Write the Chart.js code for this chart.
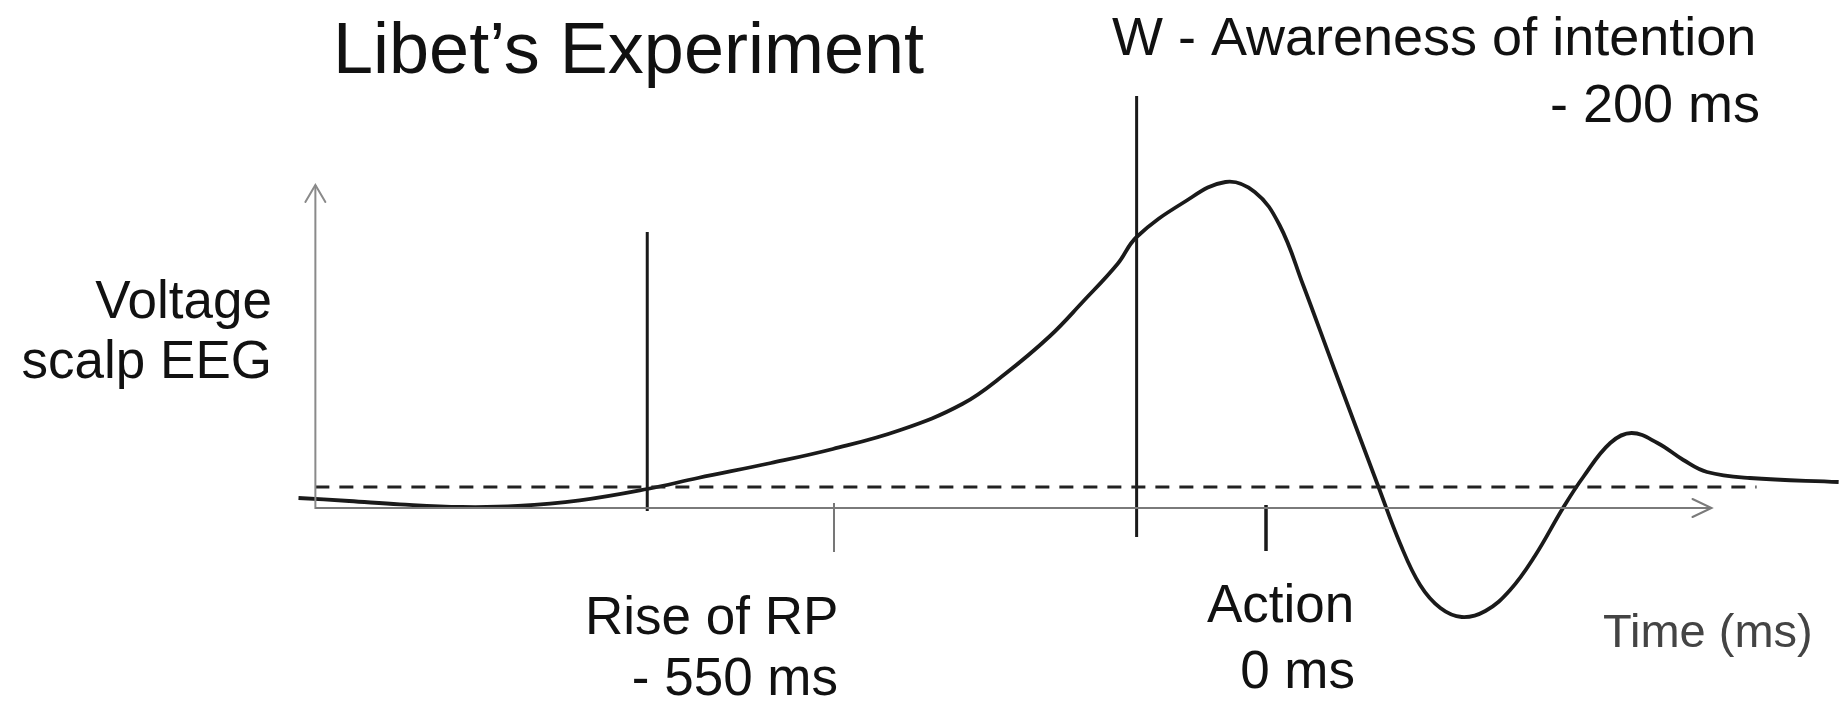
<!DOCTYPE html>
<html>
<head>
<meta charset="utf-8">
<title>Libet's Experiment</title>
<script src="https://cdn.jsdelivr.net/npm/chart.js@4"></script>
<style>
    html, body { margin: 0; padding: 0; background: #fff; }
    #wrap { width: 1839px; height: 710px; position: relative; }
</style>
</head>
<body>
<div id="wrap"><canvas id="libet"></canvas></div>
<script>
// readiness potential, time in ms relative to action, voltage in arbitrary units
const eegTime = [-860, -815, -770, -715, -665, -610, -550, -505, -440, -385, -325, -270, -232, -192, -163, -132, -115, -74, -36, -10, 12, 33, 60, 100, 119, 137, 155, 174, 195, 217, 239, 264, 282, 306, 325, 348, 371, 392, 430, 509];
const eegVoltage = [2.5, 1.75, 0.9, 0.25, 0.5, 1.9, 4.75, 7.5, 11.25, 14.75, 19.5, 26, 33.5, 43, 51.5, 61, 67.75, 76.25, 81.5, 79, 70.75, 55.75, 35.25, 5.25, -8.75, -19.25, -25, -27.25, -25.75, -20.5, -12, 0, 7.75, 16.25, 18.75, 16.25, 12, 9, 7.5, 6.5];

// baseline (dashed) and axes
const baselineLevel = 5.25;
const baselineEnd = 436;
const axisStart = -845;
const axisEnd = 396;
const axisTop = 80.75;

// event markers: vertical lines
const markerTime = [-550, -115, 0];
const markerTop = [69, 103, 0.75];
const markerBottom = [-0.75, -7.25, -10.75];
const tickTime = -384;
const tickRange = [1.25, -11];

// texts
const eventNames = ['Rise of RP', 'W - Awareness of intention', 'Action'];
const eventTimes = ['- 550 ms', '- 200 ms', '0 ms'];
const yTitle = ['Voltage', 'scalp EEG'];
const xTitle = 'Time (ms)';
const chartTitle = 'Libet\u2019s Experiment';

const FONT = '"Liberation Sans", Arial, Helvetica, sans-serif';

function seg(x1, y1, x2, y2) {
    return [{x: x1, y: y1}, {x: x2, y: y2}];
}

function lineSet(data, color, width, dash) {
    return {
        data: data,
        borderColor: color,
        borderWidth: width,
        borderDash: dash || [],
        pointRadius: 0,
        tension: 0,
        fill: false
    };
}

let datasets = [
    lineSet(seg(axisStart, 0, axisEnd, 0), '#7a7a7a', 2),
    lineSet(seg(axisStart, -0.25, axisStart, axisTop), '#8a8a8a', 2),
    lineSet(seg(axisStart, baselineLevel, baselineEnd, baselineLevel), '#222', 3.2, [14, 10]),
    lineSet(seg(tickTime, tickRange[0], tickTime, tickRange[1]), '#777', 2)
];
markerTime.forEach(function (t, i) {
    datasets.push(lineSet(seg(t, markerTop[i], t, markerBottom[i]), '#1a1a1a', i === 2 ? 3.5 : 3));
});
datasets.push({
    data: eegTime.map(function (t, i) { return {x: t, y: eegVoltage[i]}; }),
    borderColor: '#1a1a1a',
    borderWidth: 3.8,
    pointRadius: 0,
    tension: 0.4,
    fill: false
});

let annotations = {
    id: 'annotations',
    afterDatasetsDraw: function (chart) {
        let ctx = chart.ctx;
        let xs = chart.scales.x, ys = chart.scales.y;

        // arrow heads
        ctx.save();
        ctx.lineWidth = 2;
        ctx.lineCap = 'round';
        ctx.strokeStyle = '#8a8a8a';
        let tx = xs.getPixelForValue(axisStart), ty = ys.getPixelForValue(axisTop);
        ctx.beginPath();
        ctx.moveTo(tx - 10, ty + 17);
        ctx.lineTo(tx, ty);
        ctx.lineTo(tx + 10, ty + 17);
        ctx.stroke();
        ctx.strokeStyle = '#7a7a7a';
        tx = xs.getPixelForValue(axisEnd);
        ty = ys.getPixelForValue(0);
        ctx.beginPath();
        ctx.moveTo(tx - 19, ty - 9);
        ctx.lineTo(tx, ty);
        ctx.lineTo(tx - 19, ty + 9);
        ctx.stroke();

        // texts
        ctx.fillStyle = '#111';
        ctx.textBaseline = 'alphabetic';
        ctx.textAlign = 'left';
        ctx.font = '72px ' + FONT;
        ctx.fillText(chartTitle, 333, 73);

        ctx.font = '54px ' + FONT;
        ctx.fillText(eventNames[1], 1112, 55);
        ctx.textAlign = 'right';
        ctx.fillText(eventTimes[1], 1760, 122);

        ctx.font = '53px ' + FONT;
        ctx.fillText(yTitle[0], 272, 318);
        ctx.fillText(yTitle[1], 272, 378);

        ctx.textAlign = 'left';
        ctx.fillText(eventNames[0], 585, 634);
        ctx.textAlign = 'right';
        ctx.fillText(eventTimes[0], 838, 695);

        ctx.textAlign = 'left';
        ctx.fillText(eventNames[2], 1207, 622);
        ctx.textAlign = 'right';
        ctx.fillText(eventTimes[2], 1355, 688);

        ctx.textAlign = 'left';
        ctx.fillStyle = '#444';
        ctx.font = '47px ' + FONT;
        ctx.fillText(xTitle, 1603, 647);
        ctx.restore();
    }
};

new Chart(document.getElementById('libet'), {
    type: 'line',
    data: { datasets: datasets },
    options: {
        responsive: true,
        maintainAspectRatio: false,
        animation: false,
        layout: { padding: 0 },
        plugins: {
            legend: { display: false },
            tooltip: { enabled: false },
            title: { display: false }
        },
        scales: {
            x: { type: 'linear', min: -1125.33, max: 509.33, display: false },
            y: { type: 'linear', min: -50.5, max: 127, display: false }
        }
    },
    plugins: [annotations]
});
</script>
</body>
</html>
